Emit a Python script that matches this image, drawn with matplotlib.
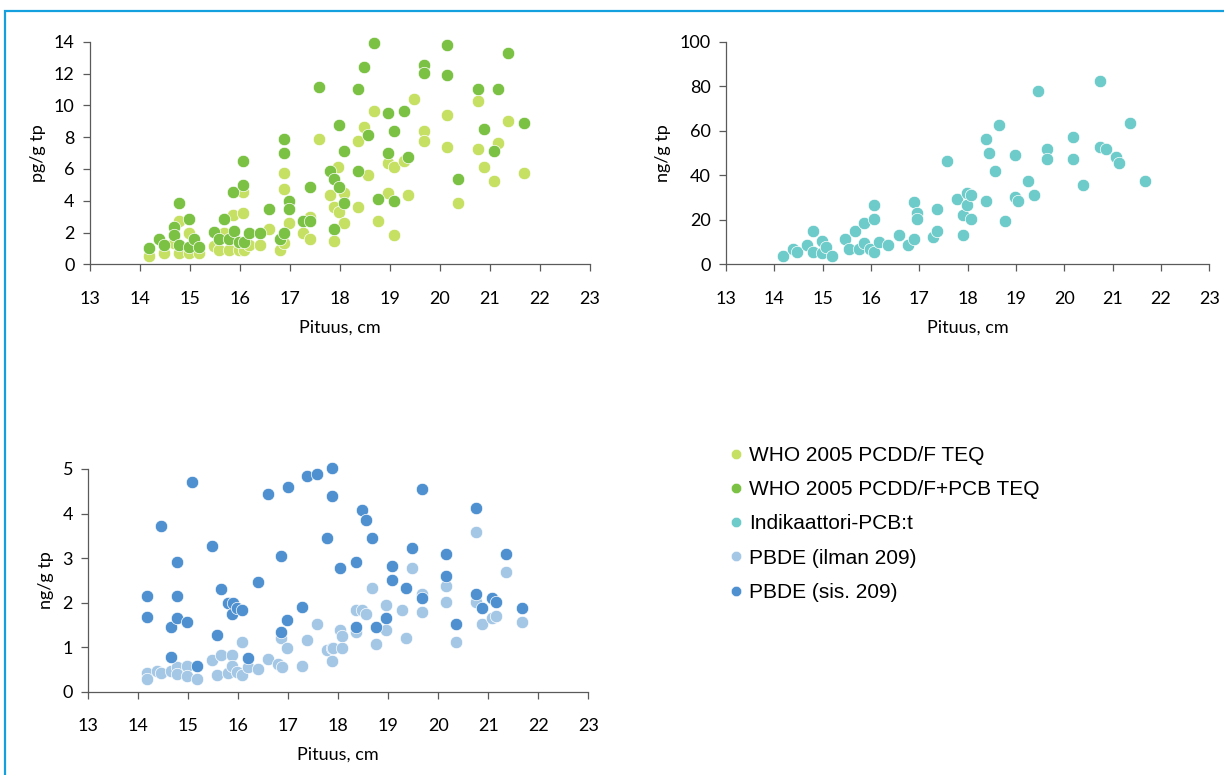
import matplotlib
matplotlib.use("Agg")
import matplotlib.pyplot as plt
from matplotlib.patches import Rectangle

plt.rcParams.update({"font.family": ["Lato", "DejaVu Sans"], "font.size": 13})

# ---- data (length cm, concentration) ----
teq_x = [14.17, 14.47, 14.67, 14.77, 14.77, 14.98, 14.98, 15.18, 15.47, 15.58, 15.67, 15.78, 15.85, 15.97,
         16.05, 16.05, 16.07, 16.18, 16.39, 16.58, 16.79, 16.87, 16.87, 16.87, 16.98, 17.25, 17.39, 17.39,
         17.58, 17.79, 17.87, 17.87, 17.95, 17.97, 18.07, 18.07, 18.35, 18.35, 18.47, 18.55, 18.67, 18.75,
         18.95, 18.95, 19.07, 19.07, 19.27, 19.35, 19.47, 19.67, 19.67, 20.15, 20.15, 20.35, 20.75, 20.75,
         20.87, 21.07, 21.15, 21.35, 21.67]
teq_y = [0.52, 0.69, 1.32, 2.74, 0.69, 1.99, 0.69, 0.69, 1.15, 0.88, 1.95, 0.88, 3.10, 0.88,
         3.25, 4.57, 0.88, 1.21, 1.21, 2.20, 0.92, 1.32, 4.72, 5.72, 2.62, 1.99, 1.57, 3.00,
         7.88, 4.36, 3.62, 1.48, 6.14, 3.31, 4.49, 2.60, 7.75, 3.60, 8.64, 5.62, 9.64, 2.72,
         6.37, 4.49, 6.12, 1.84, 6.50, 4.36, 10.40, 8.38, 7.75, 9.39, 7.38, 3.86, 10.30, 7.25,
         6.12, 5.24, 7.63, 9.01, 5.74]

teqpcb_x = [14.17, 14.38, 14.47, 14.67, 14.67, 14.77, 14.77, 14.98, 14.98, 15.07, 15.18, 15.47, 15.58, 15.67,
            15.78, 15.85, 15.87, 15.97, 16.05, 16.05, 16.07, 16.18, 16.39, 16.58, 16.79, 16.87, 16.87, 16.87,
            16.98, 16.98, 17.25, 17.39, 17.39, 17.58, 17.79, 17.87, 17.87, 17.99, 17.99, 18.07, 18.07, 18.35,
            18.35, 18.47, 18.55, 18.67, 18.75, 18.95, 18.95, 19.07, 19.07, 19.27, 19.35, 19.67, 19.67, 20.15,
            20.15, 20.35, 20.75, 20.87, 21.07, 21.15, 21.35, 21.67]
teqpcb_y = [1.00, 1.57, 1.21, 2.37, 1.84, 3.84, 1.21, 2.83, 1.10, 1.57, 1.07, 2.05, 1.57, 2.83,
            1.57, 4.57, 2.11, 1.42, 4.99, 6.50, 1.42, 1.95, 1.95, 3.46, 1.57, 1.99, 6.98, 7.88,
            4.00, 3.46, 2.72, 2.72, 4.88, 11.17, 5.89, 5.36, 2.20, 8.76, 4.88, 7.13, 3.86, 11.03,
            5.87, 12.43, 8.13, 13.94, 4.10, 9.53, 7.00, 8.38, 3.98, 9.64, 6.75, 12.55, 12.05, 13.81,
            11.92, 5.36, 11.03, 8.51, 7.13, 11.03, 13.31, 8.89]

ipcb_x = [14.17, 14.38, 14.46, 14.67, 14.79, 14.79, 14.98, 14.98, 15.06, 15.19, 15.47, 15.55, 15.67, 15.76,
          15.86, 15.86, 15.97, 16.07, 16.07, 16.07, 16.16, 16.36, 16.57, 16.77, 16.88, 16.88, 16.96, 16.96,
          17.28, 17.36, 17.36, 17.57, 17.77, 17.90, 17.90, 17.98, 17.98, 18.06, 18.06, 18.37, 18.37, 18.45,
          18.56, 18.65, 18.77, 18.97, 18.97, 19.05, 19.25, 19.38, 19.45, 19.65, 19.65, 20.18, 20.18, 20.38,
          20.74, 20.74, 20.87, 21.06, 21.14, 21.35, 21.67]
ipcb_y = [3.9, 6.9, 5.7, 8.7, 14.8, 5.7, 10.5, 4.9, 7.9, 3.9, 11.2, 6.7, 14.8, 6.7,
          18.4, 9.7, 6.7, 26.5, 20.2, 5.7, 10.2, 8.7, 13.2, 8.7, 11.4, 28.1, 23.2, 20.2,
          12.4, 15.0, 24.8, 46.4, 29.3, 22.1, 13.2, 31.9, 26.6, 31.1, 20.2, 56.3, 28.4, 50.0,
          41.9, 62.6, 19.5, 49.1, 30.2, 28.4, 37.4, 31.1, 78.0, 51.8, 47.3, 57.2, 47.3, 35.6,
          82.5, 52.7, 51.8, 48.2, 45.5, 63.5, 37.4]

pbde_x = [14.18, 14.18, 14.38, 14.45, 14.65, 14.77, 14.77, 14.98, 14.98, 15.18, 15.47, 15.58, 15.66, 15.79,
          15.87, 15.87, 15.97, 16.07, 16.07, 16.19, 16.39, 16.59, 16.79, 16.85, 16.88, 16.98, 17.27, 17.38,
          17.58, 17.78, 17.87, 17.87, 17.89, 18.03, 18.07, 18.07, 18.35, 18.35, 18.47, 18.55, 18.67, 18.75,
          18.95, 18.95, 19.27, 19.35, 19.47, 19.67, 19.67, 20.15, 20.15, 20.35, 20.75, 20.75, 20.87, 21.07,
          21.15, 21.35, 21.67]
pbde_y = [0.41, 0.29, 0.46, 0.41, 0.46, 0.55, 0.39, 0.58, 0.35, 0.29, 0.71, 0.38, 0.82, 0.41,
          0.82, 0.58, 0.45, 1.12, 0.38, 0.55, 0.51, 0.73, 0.62, 1.20, 0.55, 0.97, 0.58, 1.15,
          1.51, 0.94, 0.99, 0.70, 0.97, 1.38, 1.25, 0.97, 1.83, 1.33, 1.83, 1.74, 2.32, 1.06,
          1.95, 1.38, 1.83, 1.20, 2.77, 2.19, 1.78, 2.37, 2.01, 1.11, 3.58, 2.01, 1.51, 1.65,
          1.69, 2.68, 1.56]

pbde209_x = [14.18, 14.18, 14.45, 14.65, 14.65, 14.77, 14.77, 14.77, 14.98, 15.07, 15.18, 15.47, 15.58, 15.66,
             15.79, 15.87, 15.89, 15.97, 16.07, 16.19, 16.39, 16.59, 16.85, 16.85, 16.98, 16.99, 17.27, 17.38,
             17.58, 17.78, 17.87, 17.87, 18.03, 18.35, 18.35, 18.47, 18.55, 18.67, 18.75, 18.95, 19.07, 19.07,
             19.35, 19.47, 19.67, 19.67, 20.15, 20.15, 20.35, 20.75, 20.75, 20.87, 21.07, 21.15, 21.35, 21.67]
pbde209_y = [2.14, 1.68, 3.72, 1.46, 0.79, 2.91, 2.14, 1.65, 1.56, 4.71, 0.58, 3.27, 1.28, 2.31,
             2.00, 1.74, 2.00, 1.87, 1.83, 0.75, 2.46, 4.44, 3.05, 1.33, 1.60, 4.60, 1.91, 4.84,
             4.88, 3.46, 5.02, 4.39, 2.77, 2.91, 1.46, 4.08, 3.85, 3.44, 1.46, 1.65, 2.82, 2.50,
             2.32, 3.22, 4.54, 2.10, 3.09, 2.59, 1.51, 4.13, 2.19, 1.87, 2.10, 2.01, 3.09, 1.87]

labels = ["WHO 2005 PCDD/F TEQ", "WHO 2005 PCDD/F+PCB TEQ", "Indikaattori-PCB:t",
          "PBDE (ilman 209)", "PBDE (sis. 209)"]
colors = ["#C5E063", "#7BC143", "#6DCBC9", "#A5C7E6", "#4F91D0"]

W, H = 1224, 775
fig = plt.figure(figsize=(W / 100, H / 100), dpi=100)

def px_axes(l, t, r, b):
    return fig.add_axes([l / W, 1 - b / H, (r - l) / W, (b - t) / H])

def style(ax, ymax, ystep, ylabel):
    ax.set_xlim(13, 23); ax.set_ylim(0, ymax)
    ax.set_xticks(range(13, 24)); ax.set_yticks(range(0, ymax + 1, ystep))
    for s in ("top", "right"): ax.spines[s].set_visible(False)
    for s in ("left", "bottom"):
        ax.spines[s].set_color("#5a5a5a"); ax.spines[s].set_linewidth(0.9)
    ax.tick_params(direction="out", length=5, width=0.9, color="#5a5a5a", labelsize=13)
    ax.tick_params(axis="x", pad=14)
    ax.tick_params(axis="y", pad=6)
    ax.set_xlabel("Pituus, cm", fontsize=13, labelpad=9)
    ax.set_ylabel(ylabel, fontsize=13, labelpad=6)
    ax.patch.set_alpha(0)

ms = 80
ax1 = px_axes(90, 41.7, 590, 264.3)
ax1.scatter(teq_x, teq_y, s=ms, color=colors[0], edgecolor="white", lw=0.5, zorder=2, clip_on=False)
ax1.scatter(teqpcb_x, teqpcb_y, s=ms, color=colors[1], edgecolor="white", lw=0.5, zorder=3, clip_on=False)
style(ax1, 14, 2, "pg/g tp")

ax2 = px_axes(726, 41.7, 1209.3, 264.3)
ax2.scatter(ipcb_x, ipcb_y, s=ms, color=colors[2], edgecolor="white", lw=0.5, zorder=2, clip_on=False)
style(ax2, 100, 20, "ng/g tp")

ax3 = px_axes(88.3, 469, 588.3, 691.7)
ax3.scatter(pbde_x, pbde_y, s=ms, color=colors[3], edgecolor="white", lw=0.5, zorder=2, clip_on=False)
ax3.scatter(pbde209_x, pbde209_y, s=ms, color=colors[4], edgecolor="white", lw=0.5, zorder=3, clip_on=False)
style(ax3, 5, 1, "ng/g tp")

# legend
handles = [plt.Line2D([], [], ls="", marker="o", ms=7.5, color=c, mec="white", mew=0.4) for c in colors]
fig.legend(handles, labels, loc="upper left", bbox_to_anchor=(728.7 / W, 1 - 446 / H), frameon=False,
           borderaxespad=0, borderpad=0, handlelength=0.7, handletextpad=0.29, labelspacing=0.73,
           prop={"family": "Liberation Sans", "size": 15})

# light blue frame (top and left edges visible)
fig.patches.append(Rectangle((5 / W, -0.05), 1.1, 1 - 10.5 / H + 0.05, transform=fig.transFigure,
                             fill=False, ec="#14A0DE", lw=1.6))

fig.savefig("out.png", dpi=100)
